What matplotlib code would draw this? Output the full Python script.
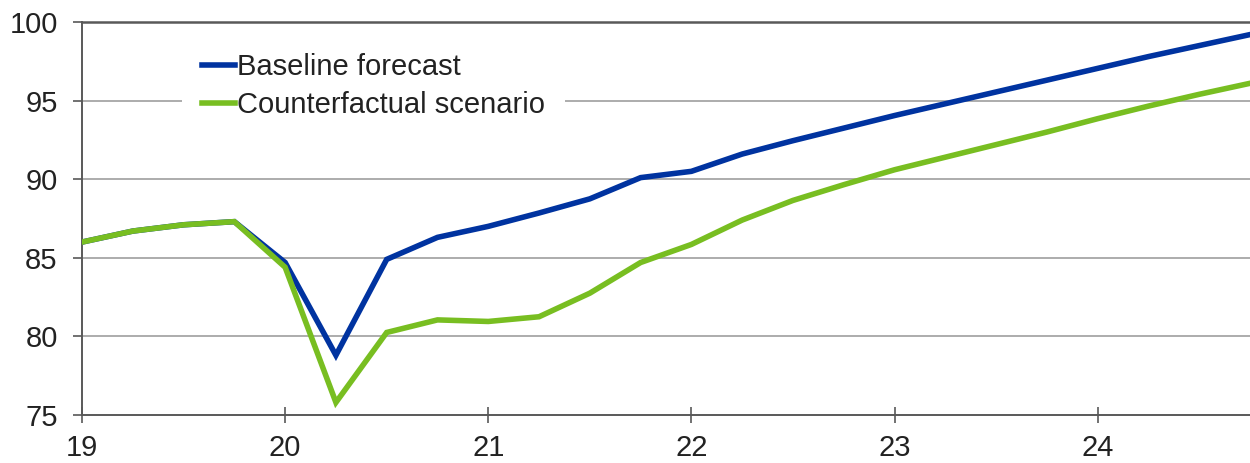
import numpy as np
import matplotlib
matplotlib.use("Agg")
import matplotlib.pyplot as plt

plt.rcParams["font.family"] = ["Liberation Sans", "DejaVu Sans"]

# Quarterly periods, 2019Q1 to 2024Q4 (years shown as two digits)
quarters = [19.0, 19.25, 19.5, 19.75,
            20.0, 20.25, 20.5, 20.75,
            21.0, 21.25, 21.5, 21.75,
            22.0, 22.25, 22.5, 22.75,
            23.0, 23.25, 23.5, 23.75,
            24.0, 24.25, 24.5, 24.75]

baseline = [86.0, 86.7, 87.1, 87.3,
            84.7, 78.8, 84.9, 86.3,
            87.0, 87.85, 88.75, 90.1,
            90.5, 91.6, 92.45, 93.25,
            94.05, 94.8, 95.55, 96.3,
            97.05, 97.8, 98.5, 99.2]

counterfactual = [86.0, 86.7, 87.1, 87.3,
                  84.4, 75.8, 80.25, 81.05,
                  80.95, 81.25, 82.75, 84.7,
                  85.85, 87.4, 88.65, 89.65,
                  90.6, 91.4, 92.2, 93.0,
                  93.85, 94.65, 95.4, 96.1]

year_ticks = [19, 20, 21, 22, 23, 24]
value_ticks = [75, 80, 85, 90, 95, 100]

blue = "#0033A0"
green = "#78BE21"
axis_grey = "#595959"
grid_grey = "#A6A6A6"

fig = plt.figure(figsize=(12.5, 4.63), dpi=100)
ax = fig.add_axes([82 / 1250, 1 - 415 / 463, 1 - 82 / 1250, (415 - 22) / 463])

ax.plot(quarters, baseline, color=blue, lw=4.0, label="Baseline forecast",
        solid_joinstyle="miter", zorder=3)
ax.plot(quarters, counterfactual, color=green, lw=4.0, label="Counterfactual scenario",
        solid_joinstyle="miter", zorder=3)

ax.set_xlim(19, 24.75)
ax.set_ylim(75, 100)
ax.set_xticks(year_ticks)
ax.set_xticklabels([str(y) for y in year_ticks])
ax.set_yticks(value_ticks)

# horizontal grid lines
for v in value_ticks[1:-1]:
    ax.axhline(v, color=grid_grey, lw=1.3, zorder=1)
ax.axhline(100, color=axis_grey, lw=1.8, zorder=1, clip_on=False)

for side in ["top", "right"]:
    ax.spines[side].set_visible(False)
for side in ["left", "bottom"]:
    ax.spines[side].set_color(axis_grey)
    ax.spines[side].set_linewidth(1.4)

ax.tick_params(axis="x", direction="inout", length=11.5, width=1.2,
               color=axis_grey, labelsize=21, pad=8, labelcolor="#222222")
ax.tick_params(axis="y", direction="out", length=6.5, width=1.2,
               color=axis_grey, labelsize=21, pad=11, labelcolor="#222222")

leg = ax.legend(loc="upper left", bbox_to_anchor=(182 / 1250, 1 - 33 / 463),
                bbox_transform=fig.transFigure, fontsize=21, frameon=True,
                facecolor="white", edgecolor="none", framealpha=1,
                fancybox=False, handlelength=1.1, handletextpad=0.08,
                labelspacing=0.33, borderpad=0.7, borderaxespad=0)
for line in leg.get_lines():
    line.set_linewidth(4.0)
for t in leg.get_texts():
    t.set_color("#222222")

fig.savefig("out.png", dpi=100)
